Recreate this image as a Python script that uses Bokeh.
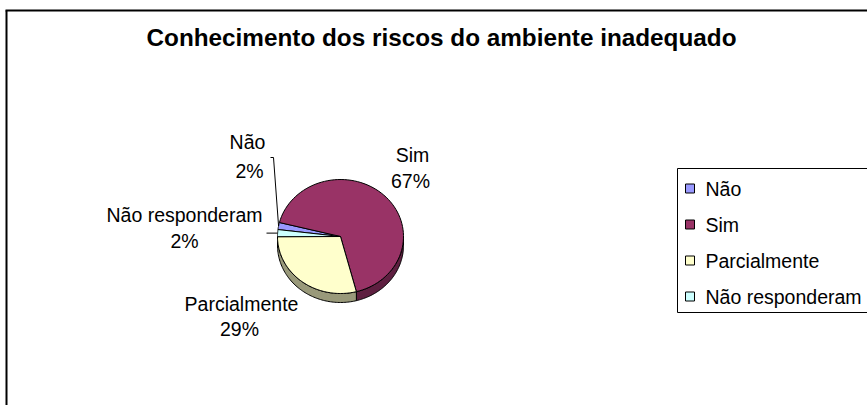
import numpy as np
from bokeh.plotting import figure
from bokeh.models import Range1d
from bokeh.embed import file_html
from bokeh.resources import INLINE
from bokeh.core.properties import value

# ---------------- data ----------------
categories = ["Não", "Sim", "Parcialmente", "Não responderam"]
values = [2, 67, 29, 2]
title_text = "Conhecimento dos riscos do ambiente inadequado"

# ---------------- style ----------------
top_colors = ["#9999FF", "#993366", "#FFFFCC", "#CCFFFF"]
side_colors = ["#5C5C99", "#5E1F40", "#99997A", "#7A9999"]
FONT = value("Liberation Sans")

W, H = 867, 405
p = figure(width=W, height=H, x_range=Range1d(0, W), y_range=Range1d(H, 0),
           output_backend="svg", toolbar_location=None, min_border=0,
           x_axis_location=None, y_axis_location=None)
p.grid.visible = False
p.outline_line_color = None
p.background_fill_color = "white"
p.border_fill_color = "white"

# chart border (only top and left visible, rest cut off)
p.line([6, 6], [10, H + 10], line_color="black", line_width=2)
p.line([5, W + 10], [10, 10], line_color="black", line_width=2)

# title
p.text(x=[441], y=[37], text=[title_text], text_font=FONT, text_font_size="24.3px",
       text_font_style="bold", text_align="center", text_baseline="middle",
       text_color="black")

# ---------------- pie geometry (layout) ----------------
cx, cy = 340.0, 236.0
rx, ry = 63.0, 57.0
depth = 9.0
start_angle = 173.0

vals = np.array(values, dtype=float)
spans = vals / vals.sum() * 360.0
starts = start_angle - np.concatenate([[0.0], np.cumsum(spans)[:-1]])
ends = starts - spans


def arc(a0, a1, dy=0.0, n=80):
    t = np.radians(np.linspace(a0, a1, n))
    return cx + rx * np.cos(t), cy - ry * np.sin(t) + dy


# sides (front lower half only)
for i in range(len(values)):
    lo = max(ends[i], -180.0)
    hi = min(starts[i], 0.0)
    if hi > lo:
        xt, yt = arc(hi, lo)
        xb, yb = arc(lo, hi, dy=depth)
        p.patch(np.concatenate([xt, xb]), np.concatenate([yt, yb]),
                fill_color=side_colors[i], line_color="black", line_width=1)

# top faces
for i in range(len(values)):
    xa, ya = arc(starts[i], ends[i])
    p.patch(np.concatenate([[cx], xa]), np.concatenate([[cy], ya]),
            fill_color=top_colors[i], line_color="black", line_width=1)

# ---------------- data labels ----------------
pct = [f"{round(v / vals.sum() * 100)}%" for v in values]
mids = (starts + ends) / 2.0
edge_x = cx + rx * np.cos(np.radians(mids))
edge_y = cy - ry * np.sin(np.radians(mids))

# label anchors (layout positions: name line / percent line), same order as categories
label_pos = [((247, 141), (249, 170)),   # Não
             ((412, 154), (410, 180)),   # Sim
             ((241, 303), (239, 328)),   # Parcialmente
             ((184, 214), (184, 240))]   # Não responderam
for i, ((x1, y1), (x2, y2)) in enumerate(label_pos):
    p.text(x=[x1, x2], y=[y1, y2], text=[categories[i], pct[i]], text_font=FONT,
           text_font_size="19.5px", text_align="center", text_baseline="middle",
           text_color="black")

# leader lines
p.line([270, 273, edge_x[0]], [157, 157, edge_y[0]], line_color="black", line_width=1)
p.line([266, edge_x[3]], [edge_y[3], edge_y[3]], line_color="black", line_width=1)

# ---------------- legend (box cut off at the right edge) ----------------
p.line([W + 20, 677, 677, W + 20], [168, 168, 312, 312], line_color="black", line_width=1)
leg_y = [188 + 36 * i for i in range(len(categories))]
p.scatter(x=[689.5] * len(categories), y=leg_y, marker="square", size=9,
          fill_color=top_colors, line_color="black", line_width=1)
p.text(x=[705] * len(categories), y=leg_y, text=categories, text_font=FONT,
       text_font_size="19.5px", text_align="left", text_baseline="middle",
       text_color="black")

open("out.html", "w").write(file_html(p, INLINE))
